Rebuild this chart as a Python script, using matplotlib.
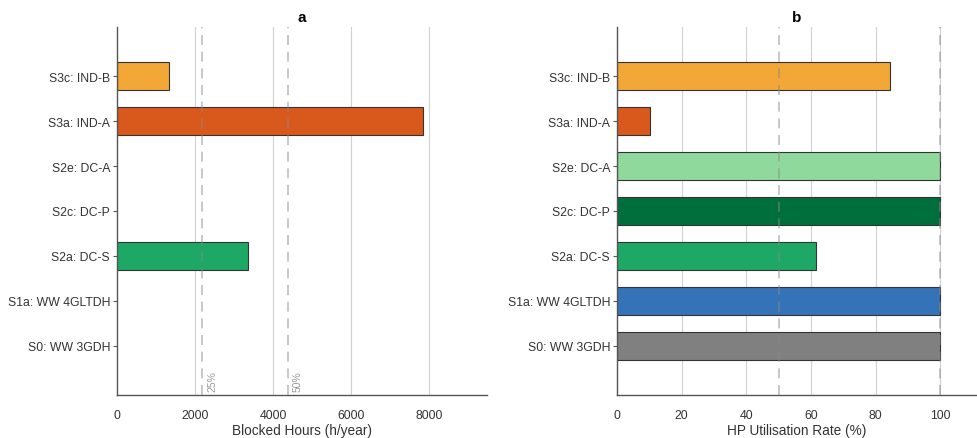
import matplotlib
matplotlib.use("Agg")
import matplotlib.pyplot as plt

plt.rcParams['font.family'] = ['Liberation Sans', 'DejaVu Sans']

scenarios = ["S0: WW 3GDH", "S1a: WW 4GLTDH", "S2a: DC-S", "S2c: DC-P",
             "S2e: DC-A", "S3a: IND-A", "S3c: IND-B"]
colors = ["#808080", "#3473B7", "#1EA866", "#006F3C", "#8ED99B", "#D9591C", "#F2A736"]

blocked_hours = [0, 0, 3360, 0, 0, 7850, 1330]
utilisation = [100, 100, 61.5, 100, 100, 10.2, 84.5]

hours_per_year = 8760
blocked_refs = [0.25, 0.50]
util_refs = [50, 100]

fig = plt.figure(figsize=(9.77, 4.39), dpi=100)
ax_a = fig.add_axes([117/977, 1 - 396/439, 370/977, 368/439])
ax_b = fig.add_axes([617/977, 1 - 396/439, 360/977, 368/439])

ypos = list(range(len(scenarios)))

def style(ax):
    for s in ["top", "right"]:
        ax.spines[s].set_visible(False)
    for s in ["left", "bottom"]:
        ax.spines[s].set_color("#555555")
        ax.spines[s].set_linewidth(1.0)
    ax.set_ylim(-1.1, len(scenarios) + 0.1)
    ax.set_yticks(ypos)
    ax.set_yticklabels(scenarios)
    ax.tick_params(axis="y", length=3, width=0.8, color="#555555",
                   labelsize=8.8, labelcolor="#333333", pad=2)
    ax.tick_params(axis="x", length=0, labelsize=8.8, labelcolor="#333333", pad=10)
    ax.set_axisbelow(True)

# Panel a: blocked hours
style(ax_a)
for x in [2000, 4000, 6000, 8000]:
    ax_a.axvline(x, color="#d0d0d0", lw=0.8, zorder=0)
ax_a.barh(ypos, blocked_hours, height=0.62,
          color=[c if v > 0 else "none" for c, v in zip(colors, blocked_hours)],
          edgecolor=["#333333" if v > 0 else "none" for v in blocked_hours],
          linewidth=0.8, zorder=2)
for f in blocked_refs:
    xv = f * hours_per_year
    ax_a.axvline(xv, color="#8a8a8a", alpha=0.55, lw=1.2, ls=(0, (6, 4)), zorder=3)
    ax_a.text(xv + 120, -1.02, f"{int(f*100)}%", rotation=90, fontsize=7.5,
              color="#9a9a9a", ha="left", va="bottom")
ax_a.set_xlim(0, 9490)
ax_a.set_xticks([0, 2000, 4000, 6000, 8000])
ax_a.set_xlabel("Blocked Hours (h/year)", fontsize=9.8, color="#333333", labelpad=1.5)
ax_a.set_title("a", fontsize=11, fontweight="bold", pad=4)

# Panel b: utilisation rate
style(ax_b)
for x in [20, 40, 60, 80, 100]:
    ax_b.axvline(x, color="#d0d0d0", lw=0.8, zorder=0)
ax_b.barh(ypos, utilisation, height=0.62, color=colors,
          edgecolor="#333333", linewidth=0.8, zorder=2)
for xv in util_refs:
    ax_b.axvline(xv, color="#8a8a8a", alpha=0.55, lw=1.2, ls=(0, (6, 4)), zorder=3)
ax_b.set_xlim(0, 111.3)
ax_b.set_xticks([0, 20, 40, 60, 80, 100])
ax_b.set_xlabel("HP Utilisation Rate (%)", fontsize=9.8, color="#333333", labelpad=1.5)
ax_b.set_title("b", fontsize=11, fontweight="bold", pad=4)

fig.savefig("out.png", dpi=100)
